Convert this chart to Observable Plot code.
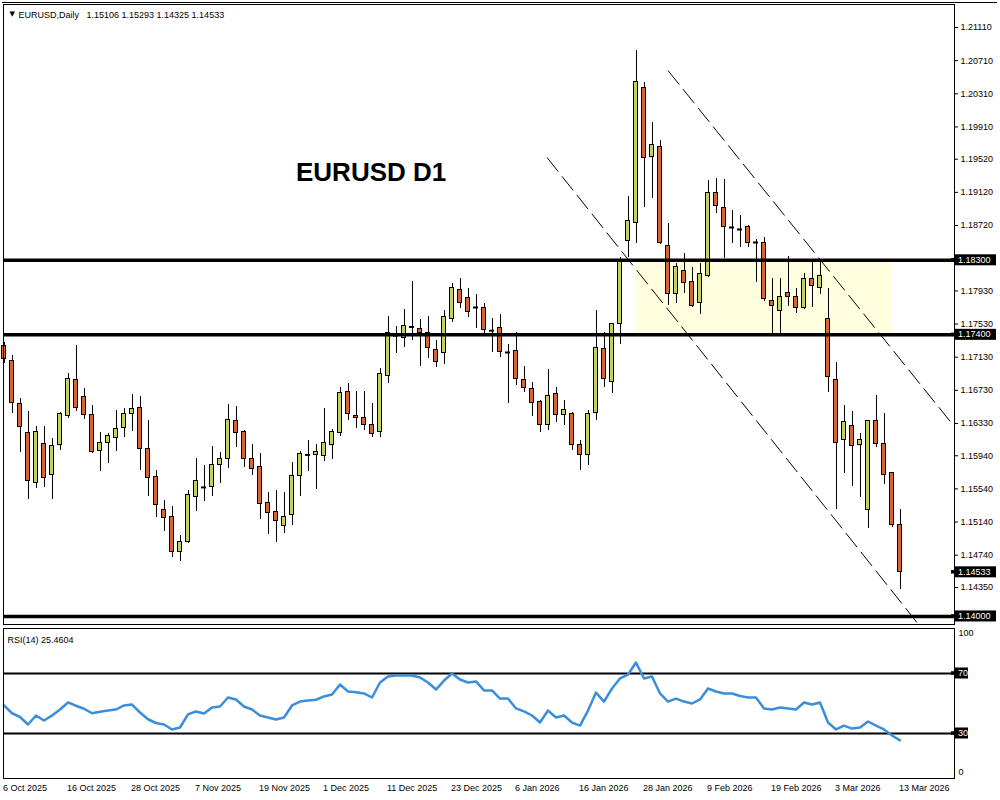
<!DOCTYPE html>
<html><head><meta charset="utf-8">
<script src="https://cdn.jsdelivr.net/npm/d3@7"></script>
<script src="https://cdn.jsdelivr.net/npm/@observablehq/plot@0.6"></script>
<style>
body{margin:0;background:#fff;}
#wrap{position:relative;width:1000px;height:800px;overflow:hidden;background:#fff;}
#main{position:absolute;left:0;top:0;}
#rsi{position:absolute;left:0;top:625px;}
#border{position:absolute;left:2px;top:2px;width:995px;height:0;border-top:1px solid #000;}
</style></head><body>
<div id="wrap"><div id="main"></div><div id="rsi"></div><div id="border"></div></div>
<script>
// ---- data (EURUSD daily, 6 Oct 2025 .. 13 Mar 2026, bar index 0..112)
const open = [
1.17260,1.17079,1.16560,1.16210,1.15606,1.16077,1.15703,1.16065,1.16415,1.16849,
1.16644,1.16427,1.15992,1.16089,1.16149,1.16270,1.16439,1.16511,1.16017,1.15679,
1.15291,1.15195,1.14784,1.14893,1.15437,1.15558,1.15558,1.15823,1.15896,1.16355,
1.16222,1.15896,1.15799,1.15364,1.15267,1.15098,1.15219,1.15691,1.15950,1.15944,
1.15932,1.16065,1.16210,1.16704,1.16415,1.16391,1.16306,1.16222,1.16898,1.17390,
1.17356,1.17495,1.17465,1.17417,1.17211,1.17175,1.17586,1.17936,1.17839,1.17730,
1.17718,1.17450,1.17477,1.17187,1.17199,1.16849,1.16741,1.16584,1.16306,1.16680,
1.16427,1.16439,1.16065,1.15944,1.16451,1.17224,1.16825,1.17525,1.18527,1.18756,
1.20374,1.19541,1.19662,1.18467,1.17887,1.18165,1.18032,1.17779,1.18105,1.19118,
1.18937,1.18696,1.18672,1.18696,1.18515,1.18503,1.17803,1.17682,1.17911,1.17851,
1.17730,1.18080,1.17960,1.17586,1.16849,1.16125,1.16294,1.16065,1.15291,1.16355,
1.16077,1.15727,1.15106];
const high = [
1.17308,1.17151,1.16632,1.16475,1.16294,1.16294,1.16149,1.16463,1.16934,1.17272,
1.16753,1.16548,1.16222,1.16210,1.16487,1.16511,1.16680,1.16656,1.16367,1.15763,
1.15400,1.15328,1.14978,1.15522,1.15908,1.15823,1.16053,1.15980,1.16560,1.16536,
1.16246,1.16077,1.15968,1.15497,1.15522,1.15497,1.15860,1.15992,1.16125,1.16077,
1.16511,1.16258,1.16765,1.16813,1.16717,1.16717,1.16572,1.16994,1.17622,1.17501,
1.17706,1.18044,1.17586,1.17622,1.17332,1.17694,1.18020,1.18080,1.17960,1.17887,
1.17779,1.17598,1.17646,1.17284,1.17429,1.17018,1.16825,1.16608,1.16982,1.16765,
1.16608,1.16463,1.16125,1.16487,1.17694,1.17429,1.17537,1.18334,1.19070,1.20832,
1.20446,1.19963,1.19746,1.18744,1.18262,1.18382,1.18213,1.18262,1.19263,1.19287,
1.19275,1.18901,1.18841,1.18720,1.18551,1.18575,1.18080,1.18080,1.18346,1.17960,
1.18141,1.18298,1.18274,1.17960,1.17067,1.16548,1.16475,1.16210,1.16360,1.16669,
1.16451,1.15727,1.15293];
const low = [
1.17055,1.16451,1.15980,1.15413,1.15546,1.15558,1.15413,1.16004,1.16391,1.16475,
1.16379,1.15968,1.15751,1.15848,1.15992,1.16161,1.16234,1.15763,1.15449,1.15195,
1.15026,1.14712,1.14664,1.14881,1.15267,1.15388,1.15449,1.15606,1.15787,1.16041,
1.15799,1.15703,1.15171,1.14990,1.14893,1.15002,1.15098,1.15449,1.15751,1.15534,
1.15872,1.15896,1.16173,1.16367,1.16270,1.16246,1.16161,1.16161,1.16813,1.17175,
1.17248,1.17332,1.17018,1.17115,1.17006,1.17042,1.17549,1.17718,1.17610,1.17477,
1.17417,1.17187,1.17127,1.16572,1.16789,1.16704,1.16415,1.16222,1.16246,1.16342,
1.16306,1.16004,1.15763,1.15823,1.16367,1.16765,1.16692,1.17284,1.18334,1.18503,
1.18937,1.19046,1.18491,1.17755,1.17779,1.17899,1.17730,1.17646,1.18093,1.18865,
1.18322,1.18503,1.18455,1.18455,1.18032,1.17803,1.17417,1.17417,1.17743,1.17658,
1.17706,1.17730,1.17887,1.16704,1.15291,1.15727,1.15570,1.15437,1.15062,1.16041,
1.15594,1.15074,1.14325];
const close = [
1.17103,1.16572,1.16282,1.15630,1.16222,1.15666,1.16053,1.16439,1.16861,1.16511,
1.16427,1.15980,1.16089,1.16173,1.16258,1.16439,1.16499,1.16017,1.15666,1.15340,
1.15183,1.14784,1.14905,1.15461,1.15630,1.15558,1.15823,1.15896,1.16367,1.16210,
1.15896,1.15775,1.15352,1.15255,1.15147,1.15195,1.15691,1.15956,1.15950,1.15980,
1.16089,1.16222,1.16692,1.16439,1.16391,1.16306,1.16198,1.16922,1.17417,1.17390,
1.17501,1.17495,1.17417,1.17236,1.17067,1.17610,1.17960,1.17779,1.17670,1.17730,
1.17453,1.17450,1.17187,1.17187,1.16861,1.16753,1.16572,1.16306,1.16656,1.16427,
1.16487,1.16065,1.15944,1.16439,1.17236,1.16861,1.17525,1.18298,1.18769,1.20458,
1.19529,1.19686,1.18503,1.17887,1.18213,1.18020,1.17743,1.18129,1.19118,1.18950,
1.18696,1.18696,1.18672,1.18503,1.18515,1.17827,1.17743,1.17851,1.17851,1.17730,
1.18080,1.17984,1.18105,1.16886,1.16089,1.16342,1.16053,1.16125,1.16355,1.16077,
1.15703,1.15110,1.14533];
const rsi = [
48.7,43.5,41,36,42,38.7,42,46,50.7,48.5,
46.5,43.5,44.5,45.3,46,48.7,49.3,44,39.5,37,
36,32.7,34,42.7,44.7,43.3,47.3,48,54,52.7,
48,46,42,40.7,39.3,40.7,48.7,51.3,52,52.5,
54.7,56,62.7,58,57.5,56.7,54,64,68,68.7,
68.7,68.7,67.3,64,59.3,65.3,70,66,64,64.7,
58.7,58.7,53.3,53.3,46.7,44.7,42,37.3,45.3,40.7,
42,37.3,35.3,45.3,57.3,51.3,60,66.7,69.3,77.3,
66.7,68,56.7,51.3,53.3,51.3,50,52.7,60,58,
56.7,56.7,55,54,54,46.7,46,47.3,46.7,46,
50.7,49.3,50.7,37.3,32.7,35.3,33.3,34,38,35.3,
32.7,28.7,25.46];

const dateTickIdx = [0,8,16,24,32,40,48,56,64,72,80,88,96,104,112];
const dateLabels = ["6 Oct 2025","16 Oct 2025","28 Oct 2025","7 Nov 2025","19 Nov 2025","1 Dec 2025","11 Dec 2025","23 Dec 2025","6 Jan 2026","16 Jan 2026","28 Jan 2026","9 Feb 2026","19 Feb 2026","3 Mar 2026","13 Mar 2026"];
const priceTicks = [1.2111,1.2071,1.2031,1.1991,1.1952,1.1912,1.1872,1.1793,1.1753,1.1713,1.1673,1.1633,1.1594,1.1554,1.1514,1.1474,1.1435];
const levels = [1.183, 1.174, 1.14];
const levelLabels = ["1.18300","1.17400","1.14000"];
const lastPrice = [1.14533];
const zoneX = [79, 111], zoneY = [1.174, 1.183];
const chanX1 = [83, 67.875], chanY1 = [1.20591, 1.19541];
const chanX2 = [118.375, 114.125], chanY2 = [1.16342, 1.13927];
const rsiLevels = [70, 30];
const header = "EURUSD,Daily\u00a0\u00a0 1.15106 1.15293 1.14325 1.14533";
const rsiLabel = "RSI(14) 25.4604";
const title = {text: "EURUSD D1", i: 36.5, p: 1.1936};

// ---- build
const FONT = "Liberation Sans";
const upFill = "#bfd263", downFill = "#d9643a";
const candles = open.map((o, i) => ({i, o, h: high[i], l: low[i], c: close[i]}));
const ups = candles.filter(d => d.c > d.o);
const downs = candles.filter(d => d.c < d.o);
const dojis = candles.filter(d => d.c === d.o);
const hw = 0.25;
const xDomain = [-0.0625, 118.8125];
const font = {fontFamily: FONT, fontSize: "9px", color: "black", background: "transparent", overflow: "visible"};

const main = Plot.plot({
  width: 1000, height: 625, marginLeft: 3, marginRight: 46, marginTop: 4, marginBottom: 1,
  style: font,
  x: {domain: xDomain, axis: null},
  y: {domain: [1.13903, 1.21388], axis: null},
  marks: [
    Plot.rect([0], {x1: () => zoneX[0], x2: () => zoneX[1], y1: () => zoneY[0], y2: () => zoneY[1], fill: "#ffffe0"}),
    Plot.link([0, 1], {x1: k => chanX1[k], y1: k => chanY1[k], x2: k => chanX2[k], y2: k => chanY2[k], stroke: "black", strokeWidth: 1, strokeDasharray: "18,6"}),
    Plot.ruleX(candles, {x: "i", y1: "l", y2: "h", stroke: "black", strokeWidth: 1, shapeRendering: "crispEdges"}),
    Plot.rect(ups, {x1: d => d.i - hw, x2: d => d.i + hw, y1: "o", y2: "c", fill: upFill, stroke: "black", strokeWidth: 1, shapeRendering: "crispEdges"}),
    Plot.rect(downs, {x1: d => d.i - hw, x2: d => d.i + hw, y1: "o", y2: "c", fill: downFill, stroke: "black", strokeWidth: 1, shapeRendering: "crispEdges"}),
    Plot.ruleY(dojis, {y: "c", x1: d => d.i - hw - 0.06, x2: d => d.i + hw + 0.06, stroke: "black", strokeWidth: 2}),
    Plot.ruleY(levels, {stroke: "black", strokeWidth: 3.5}),
    Plot.text([title], {x: "i", y: "p", text: "text", textAnchor: "start", fontSize: 26, fontWeight: "bold", fontFamily: FONT}),
    Plot.text(["\u25BC"], {frameAnchor: "top-left", dx: 6, dy: 7, textAnchor: "start", fontSize: 7, fontFamily: "DejaVu Sans"}),
    Plot.text([header], {frameAnchor: "top-left", dx: 15, dy: 7, textAnchor: "start", fontFamily: FONT, fontSize: 9}),
    Plot.frame({stroke: "black"}),
    Plot.axisY({anchor: "right", ticks: priceTicks, tickFormat: d => d.toFixed(5), tickSize: 3, tickPadding: 3, fontFamily: FONT, fontSize: 9})
  ]
});
document.getElementById("main").appendChild(main);

function addBoxes(plot, items, x0, w) {
  const ys = plot.scale("y");
  const g = d3.select(plot).append("g").attr("font-family", FONT).attr("font-size", 9).attr("text-anchor", "start");
  for (const it of items) {
    const yy = ys.apply(it.v);
    g.append("rect").attr("x", x0).attr("y", yy - 5.5).attr("width", w).attr("height", 11).attr("fill", "black");
    g.append("rect").attr("x", x0 - 4).attr("y", yy - 1.75).attr("width", 4).attr("height", 3.5).attr("fill", "black");
    g.append("text").attr("x", x0 + 3).attr("y", yy).attr("dy", "0.35em").attr("fill", "white").attr("text-anchor", "start").text(it.label);
  }
}
addBoxes(main, levels.map((v, k) => ({v, label: levelLabels[k]})).concat(lastPrice.map(v => ({v, label: v.toFixed(5)}))), 955, 41);

const dateMap = new Map(dateTickIdx.map((d, k) => [d, dateLabels[k]]));
const rsiPlot = Plot.plot({
  width: 1000, height: 175, marginLeft: 3, marginRight: 46, marginTop: 3, marginBottom: 22,
  style: font,
  x: {domain: xDomain, axis: null},
  y: {domain: [0, 100], axis: null},
  marks: [
    Plot.ruleY(rsiLevels, {stroke: "black", strokeWidth: 2}),
    Plot.line(rsi, {x: (d, k) => k, y: d => d, stroke: "#3b8edc", strokeWidth: 2.5}),
    Plot.frame({stroke: "black"}),
    Plot.axisX({ticks: dateTickIdx, tickFormat: d => dateMap.get(d), textAnchor: "start", tickSize: 0, tickPadding: 6, dx: -1, fontFamily: FONT, fontSize: 9}),
    Plot.text([100], {y: d => d, frameAnchor: "right", text: d => String(d), textAnchor: "start", dx: 4, dy: 5, fontFamily: FONT, fontSize: 9}),
    Plot.text([0], {y: d => d, frameAnchor: "right", text: d => String(d), textAnchor: "start", dx: 4, dy: -6, fontFamily: FONT, fontSize: 9}),
    Plot.text([rsiLabel], {frameAnchor: "top-left", dx: 4, dy: 8, textAnchor: "start", fontFamily: FONT, fontSize: 9})
  ]
});
document.getElementById("rsi").appendChild(rsiPlot);
addBoxes(rsiPlot, rsiLevels.map(v => ({v, label: String(v)})), 955, 13);
</script>
</body></html>
